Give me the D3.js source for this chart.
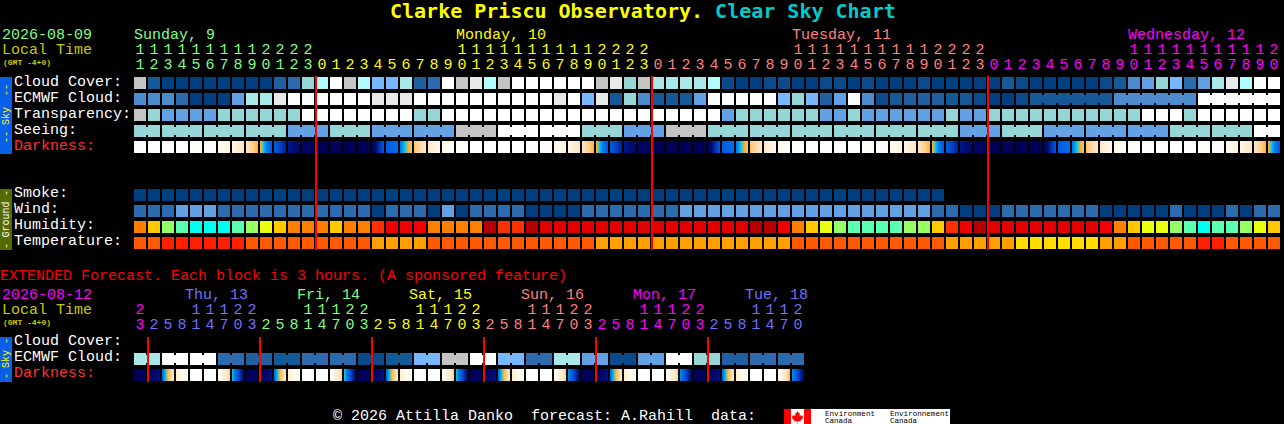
<!DOCTYPE html>
<html><head><meta charset="utf-8">
<style>
html,body{margin:0;padding:0;background:#000;overflow:hidden}
svg{display:block}
text{font-family:"Liberation Mono",monospace;font-size:15px;white-space:pre}
rect{shape-rendering:crispEdges}
</style>
<script src="https://cdnjs.cloudflare.com/ajax/libs/d3/7.8.5/d3.min.js"></script>
</head><body><svg id="c" width="1284" height="424"></svg>
<script>
// ---------- DATA ----------
const titleMain = "Clarke Priscu Observatory.";
const titleSub = "Clear Sky Chart";
const hours = [11,12,13,14,15,16,17,18,19,20,21,22,23,
 0,1,2,3,4,5,6,7,8,9,10,11,12,13,14,15,16,17,18,19,20,21,22,23,
 0,1,2,3,4,5,6,7,8,9,10,11,12,13,14,15,16,17,18,19,20,21,22,23,
 0,1,2,3,4,5,6,7,8,9,10,11,12,13,14,15,16,17,18,19,20];
const dayNames = ["Sunday, 9","Monday, 10","Tuesday, 11","Wednesday, 12"];
const dayLabelCols = [0,23,47,71];
const dayStartCols = [0,13,37,61];
const midnightCols = [13,37,61];
const cloudCover = [13,2,0,0,0,0,0,0,0,0,
 3,4,8,10,11,13,10,7,7,9,
 3,4,11,13,12,10,13,11,11,11,
 11,11,11,13,12,8,13,9,9,9,
 9,10,1,0,0,1,1,0,0,1,
 1,0,1,0,0,0,1,0,0,0,
 0,0,2,1,0,0,0,0,0,1,
 2,5,6,8,7,4,6,9,12,10,
 11,11];
const ecmwfCloud = [5,5,5,4,0,0,0,6,9,9,
 12,11,11,11,11,11,11,12,12,12,
 11,11,11,11,11,11,11,11,11,11,
 12,11,7,12,2,8,5,2,2,2,
 6,11,11,11,11,11,7,8,7,3,
 6,11,5,1,2,3,3,3,2,2,
 1,0,0,1,2,2,2,2,2,2,
 5,5,5,5,5,5,11,11,11,11,
 11,11];
const ecmwfBlockStarts = [0,1,2,3,4,5,6,7,8,9,10,11,12,13,14,15,16,17,18,19,20,21,22,23,24,25,26,27,28,29,30,31,32,
 33,34,35,36,37,38,39,40,41,42,43,44,45,46,47,48,49,50,51,52,53,54,55,56,57,58,59,60,61,62,63,64,70,76];
const transparency = [13,8,6,6,6,6,8,8,8,8,
 8,8,11,11,11,11,11,11,11,11,
 8,8,11,11,11,11,11,11,11,11,
 11,11,11,11,11,11,11,11,11,11,
 11,11,6,8,8,8,8,8,8,6,
 6,8,6,6,6,6,6,6,8,6,
 6,8,8,8,8,8,8,8,8,8,
 8,8,11,11,11,8,11,11,11,11,
 11,11];
const seeingBlockStarts = [0,2,5,8,11,14,17,20,23,26,29,32,35,38,41,44,47,50,53,56,59,62,65,68,71,74,77,80];
const seeingBlocks = [8,8,8,8,6,8,6,6,13,11,11,8,6,13,8,8,8,8,8,8,6,8,6,6,6,8,8,11];
const darknessEdges = [0,0,0,0,0,.2,1,1.8,3,4.7,
 7.1,8.7,9.5,10,10,10,10,10,7.2,6.2,
 4.3,2.8,1.5,.3,0,0,0,0,0,.2,
 1,1.8,3,4.7,7.1,8.7,9.5,10,10,10,
 10,10,7.2,6.2,4.3,2.8,1.5,.3,0,0,
 0,0,0,.2,1,1.8,3,4.7,7.1,8.7,
 9.5,10,10,10,10,10,7.2,6.2,4.3,2.8,
 1.5,.3,0,0,0,0,0,.2,1,1.8,
 3,4.7,7.1];
const smoke = [0,0,0,0,0,0,0,0,0,0,0,0,0,0,0,0,0,0,0,0,0,0,0,0,0,0,0,0,0,0,
 0,0,0,0,0,0,0,0,0,0,0,0,0,0,0,0,0,0,0,0,0,0,0,0,0,0,0,0];
const wind = [4,4,4,6,6,6,4,4,4,4,
 4,4,4,4,4,4,4,0,4,4,
 4,0,6,0,4,4,4,4,0,0,
 0,0,4,4,4,4,4,4,4,6,
 6,6,6,6,6,6,6,6,6,6,
 6,6,6,6,6,6,6,4,4,0,
 0,0,4,4,4,4,4,4,4,0,
 0,0,0,0,4,0,0,0,4,0,
 4,4];
const humidity = [72,67,57,52,47,47,47,52,57,62,
 67,72,72,72,67,72,72,77,82,82,
 82,72,72,72,72,92,77,77,92,87,
 87,87,87,87,87,87,87,87,87,87,
 87,87,87,87,92,92,82,72,67,62,
 57,52,52,52,52,57,57,67,77,82,
 92,87,87,87,87,87,87,87,87,82,
 72,67,62,62,57,52,47,52,52,57,
 62,67];
const temperature = [23,23,26,26,26,26,26,26,23,23,
 23,23,23,23,23,23,23,20,20,20,
 20,23,23,23,23,23,23,23,23,23,
 23,23,23,20,20,20,20,20,20,20,
 20,20,20,20,20,20,20,23,23,23,
 23,23,23,23,23,23,23,23,20,20,
 20,20,20,18,18,18,18,18,18,20,
 20,23,23,23,23,23,26,26,23,23,
 23,23];
const extHours = [23,2,5,8,11,14,17,20,23,2,5,8,11,14,17,20,23,2,5,8,11,14,17,20,23,
 2,5,8,11,14,17,20,23,2,5,8,11,14,17,20,23,2,5,8,11,14,17,20];
const extDayNames = ["Thu, 13","Fri, 14","Sat, 15","Sun, 16","Mon, 17","Tue, 18"];
const extDayStartCols = [0,1,9,17,25,33,41];
const extMidnightCols = [1,9,17,25,33,41];
const extBlocks = [9,11,11,4,3,2,4,4,1,2,7,13,11,7,4,9,6,1,6,11,8,3,4,4];
const extDarkFrom = [10,10,6.5,2.5,0,0,.5,5.3, 10,10,6.5,2.5,0,0,.5,5.2, 10,10,6.5,2.5,0,0,.5,5.3,
 10,10,6.5,2.5,0,0,.5,5.8, 10,10,6.5,2.5,0,0,.5,5.8, 10,10,6.5,2.5,0,0,.5,5.8];
const extDarkTo = [10,8.9,2.8,.3,0,0,3.8,9.6, 10,8.9,2.8,.3,0,0,3.8,9.6, 10,8.9,2.8,.3,0,0,3.8,9.6,
 10,8.9,2.8,.3,0,0,3.8,9.6, 10,8.9,2.8,.3,0,0,3.8,9.6, 10,8.9,2.8,.3,0,0,4.6,9.6];
const skyRows = ["Cloud Cover:","ECMWF Cloud:","Transparency:","Seeing:","Darkness:"];
const groundRows = ["Smoke:","Wind:","Humidity:","Temperature:"];
const extRows = ["Cloud Cover:","ECMWF Cloud:","Darkness:"];

// ---------- SCALES ----------
const levelColor = d3.scaleOrdinal(d3.range(14),
 ["#003f7f","#0b4b8b","#155a96","#2060a0","#2c6cae","#4c8ccc","#62a2e4","#77b7ff",
  "#96d6d6","#a8e8e8","#b0fcfc","#ffffff","#e8e8e8","#c4c4c4"]);
const humidityColor = d3.scaleThreshold([50,55,60,65,70,75,80,85,90],
 ["#00fff0","#5affb0","#96ff64","#e8ff10","#ffc800","#ff8000","#ff3000","#f00000","#e00000","#b40000"]);
const tempColor = d3.scaleThreshold([19,22,25],["#ffdd00","#ffa000","#ff5a00","#ff2000"]);
const darkColor = d3.scaleLinear()
 .domain([0,1,2,3,4,4.9,5.2,5.6,6.2,7,8,9,10])
 .range(["#ffffff","#fffbf3","#fff3e0","#fee7c4","#fdcf8c","#fbaa2a","#40c8c0","#00b0f0","#0070f0","#0060e0","#0040c0","#000e78","#000058"]);
const cols = d3.scaleBand(d3.range(hours.length),[134,134+14*hours.length-2]).paddingInner(1/7);
const extCols = d3.scaleBand(d3.range(extHours.length),[134,134+14*extHours.length-2]).paddingInner(1/7);
const skyY = d3.scaleBand(skyRows,[77,77+16*skyRows.length-4]).paddingInner(.25);
const groundY = d3.scaleBand(groundRows,[189,189+16*groundRows.length-4]).paddingInner(.25);
const extY = d3.scaleBand(extRows,[337,337+16*extRows.length-4]).paddingInner(.25);

const svg = d3.select("#c");
const defs = svg.append("defs");

// ---------- HELPERS ----------
function put(x,y,s,fill,size,weight){
  return svg.append("text").attr("x",x).attr("y",y).attr("fill",fill).attr("xml:space","preserve")
    .style("font-size",(size||15)+"px").style("font-weight",weight||"normal").text(s);
}
function cells(values,x,y,row,colorOf,starts){
  const g = svg.append("g");
  g.selectAll("rect.c").data(values).join("rect").attr("class","c")
    .attr("x",(d,i)=>x(i)).attr("y",y(row)).attr("width",x.bandwidth()).attr("height",y.bandwidth())
    .attr("fill",d=>colorOf(d));
  if(starts){
    const joined = d3.range(values.length-1).filter(i=>!starts.includes(i+1));
    g.selectAll("rect.b").data(joined).join("rect").attr("class","b")
      .attr("x",i=>x(i)+x.bandwidth()).attr("y",y(row)+2).attr("width",x.step()-x.bandwidth())
      .attr("height",y.bandwidth()-4).attr("fill",i=>colorOf(values[i]));
  }
}
function darkness(from,to,x,y,row,prefix){
  const ids = from.map((d,i)=>prefix+i);
  from.forEach((a,i)=>{
    const grad = defs.append("linearGradient").attr("id",ids[i]);
    d3.range(0,1.0001,1/12).forEach(t=>{
      grad.append("stop").attr("offset",t).attr("stop-color",darkColor(a+(to[i]-a)*t));
    });
  });
  svg.append("g").selectAll("rect").data(from).join("rect")
    .attr("x",(d,i)=>x(i)).attr("y",y(row)).attr("width",x.bandwidth()).attr("height",y.bandwidth())
    .attr("fill",(d,i)=>`url(#${ids[i]})`);
}
function vert(cx,cy,s,fill){
  svg.append("text").attr("transform",`translate(${cx},${cy}) rotate(-90)`)
    .attr("text-anchor","middle").attr("fill",fill).style("font-size","10px").text(s);
}

// ---------- TITLE ----------
const t = put(390,18,"", "#ffff00",20,"bold").style("font-family",'"DejaVu Sans Mono",monospace');
t.append("tspan").attr("fill","#ffff00").text(titleMain+" ");
t.append("tspan").attr("fill","#00cccc").text(titleSub);

// ---------- TIME HEADER ----------
const dayPalette = ["#80ff80","#ffff00","#ff8080","#ff00ff"];
const extPalette = ["#ff00ff","#7070ff","#80ff80","#ffff00","#ff8080","#ff00ff","#7070ff"];
function hourRows(list,x,starts,palette,y1,y2){
  const colorAt = i=>palette[d3.bisectRight(starts,i)-1];
  list.forEach((h,i)=>{
    if(h>=10) put(x(i)+x.bandwidth()/2,y1,String(Math.floor(h/10)),colorAt(i)).attr("text-anchor","middle");
    put(x(i)+x.bandwidth()/2,y2,String(h%10),colorAt(i)).attr("text-anchor","middle");
  });
}
put(2,39,"2026-08-09","#80ff80");
put(2,54,"Local Time","#c8c800");
put(3,65,"(GMT -4+0)","#c8c800",8,"bold");
dayNames.forEach((d,i)=>put(cols(dayLabelCols[i]),39,d,dayPalette[i]));
hourRows(hours,cols,dayStartCols,dayPalette,54,69);

// ---------- SKY ----------
svg.append("rect").attr("x",0).attr("y",77).attr("width",12).attr("height",77).attr("fill","#0a5fe8");
vert(9,90,"--","#ffff00"); vert(9,116,"Sky","#ffff00"); vert(9,137,"--","#ffff00");
skyRows.forEach(r=>put(14,skyY(r)+9,r,r==="Darkness:"?"#ff3030":"#ffffff"));
cells(cloudCover,cols,skyY,"Cloud Cover:",levelColor);
cells(ecmwfCloud,cols,skyY,"ECMWF Cloud:",levelColor,ecmwfBlockStarts);
cells(transparency,cols,skyY,"Transparency:",levelColor);
cells(hours.map((h,i)=>seeingBlocks[d3.bisectRight(seeingBlockStarts,i)-1]),cols,skyY,"Seeing:",levelColor,seeingBlockStarts);
darkness(darknessEdges.slice(0,-1),darknessEdges.slice(1),cols,skyY,"Darkness:","d");

// ---------- GROUND ----------
svg.append("rect").attr("x",0).attr("y",189).attr("width",12).attr("height",61).attr("fill","#556b00");
vert(9,193,"-","#ffffff"); vert(9,219.5,"Ground","#ffffff"); vert(9,246,"-","#ffffff");
groundRows.forEach(r=>put(14,groundY(r)+8,r,"#ffffff"));
cells(smoke,cols,groundY,"Smoke:",levelColor);
cells(wind,cols,groundY,"Wind:",levelColor);
cells(humidity,cols,groundY,"Humidity:",humidityColor);
cells(temperature,cols,groundY,"Temperature:",tempColor);
svg.append("g").selectAll("rect").data(midnightCols).join("rect")
  .attr("x",i=>Math.round(cols(i))-1).attr("y",76).attr("width",2).attr("height",174).attr("fill","#ff0000");

// ---------- EXTENDED ----------
put(0,280,"EXTENDED Forecast. Each block is 3 hours. (A sponsored feature)","#ff0000");
put(2,299,"2026-08-12","#ff00ff");
put(2,314,"Local Time","#c8c800");
put(3,325,"(GMT -4+0)","#c8c800",8,"bold");
extDayNames.forEach((d,i)=>put(extCols(extDayStartCols[i+1])+37,299,d,extPalette[i+1]));
hourRows(extHours,extCols,extDayStartCols,extPalette,314,329);
svg.append("rect").attr("x",0).attr("y",337).attr("width",12).attr("height",45).attr("fill","#0a5fe8");
vert(9,341,"-","#ffff00"); vert(9,359,"Sky","#ffff00"); vert(9,376,"-","#ffff00");
extRows.forEach((r,i)=>put(14,345+16*i,r,r==="Darkness:"?"#ff3030":"#ffffff"));
cells(extHours.map((h,i)=>extBlocks[Math.floor(i/2)]),extCols,extY,"ECMWF Cloud:",levelColor,d3.range(0,extHours.length,2));
darkness(extDarkFrom,extDarkTo,extCols,extY,"Darkness:","e");
svg.append("g").selectAll("rect").data(extMidnightCols).join("rect")
  .attr("x",i=>Math.round(extCols(i))-1).attr("y",337).attr("width",2).attr("height",45).attr("fill","#ff0000");

// ---------- FOOTER ----------
put(333,420,"\u00a9 2026 Attilla Danko  forecast: A.Rahill  data:","#ffffff");
svg.append("rect").attr("x",784).attr("y",409).attr("width",166).attr("height",15).attr("fill","#ffffff");
svg.append("rect").attr("x",784).attr("y",409).attr("width",7).attr("height",15).attr("fill","#ff0000");
svg.append("rect").attr("x",804).attr("y",409).attr("width",7).attr("height",15).attr("fill","#ff0000");
svg.append("path").attr("fill","#ff0000")
  .attr("d","M797.5 411l1.5 2.5 1-.5-.5 3 1.5-1 .5 1 1.5-.5-.5 2 .8.5-2.8 2.5.3 1-3-.3v2.3h-.6v-2.3l-3 .3.3-1-2.8-2.5.8-.5-.5-2 1.5.5.5-1 1.5 1-.5-3 1 .5z");
[["Environment",825,416,50],["Canada",825,423,27],["Environnement",890,416,59],["Canada",890,423,27]].forEach(d=>{
  put(d[1],d[2],d[0],"#000000",8).attr("textLength",d[3]).attr("lengthAdjust","spacingAndGlyphs");
});
</script></body></html>
